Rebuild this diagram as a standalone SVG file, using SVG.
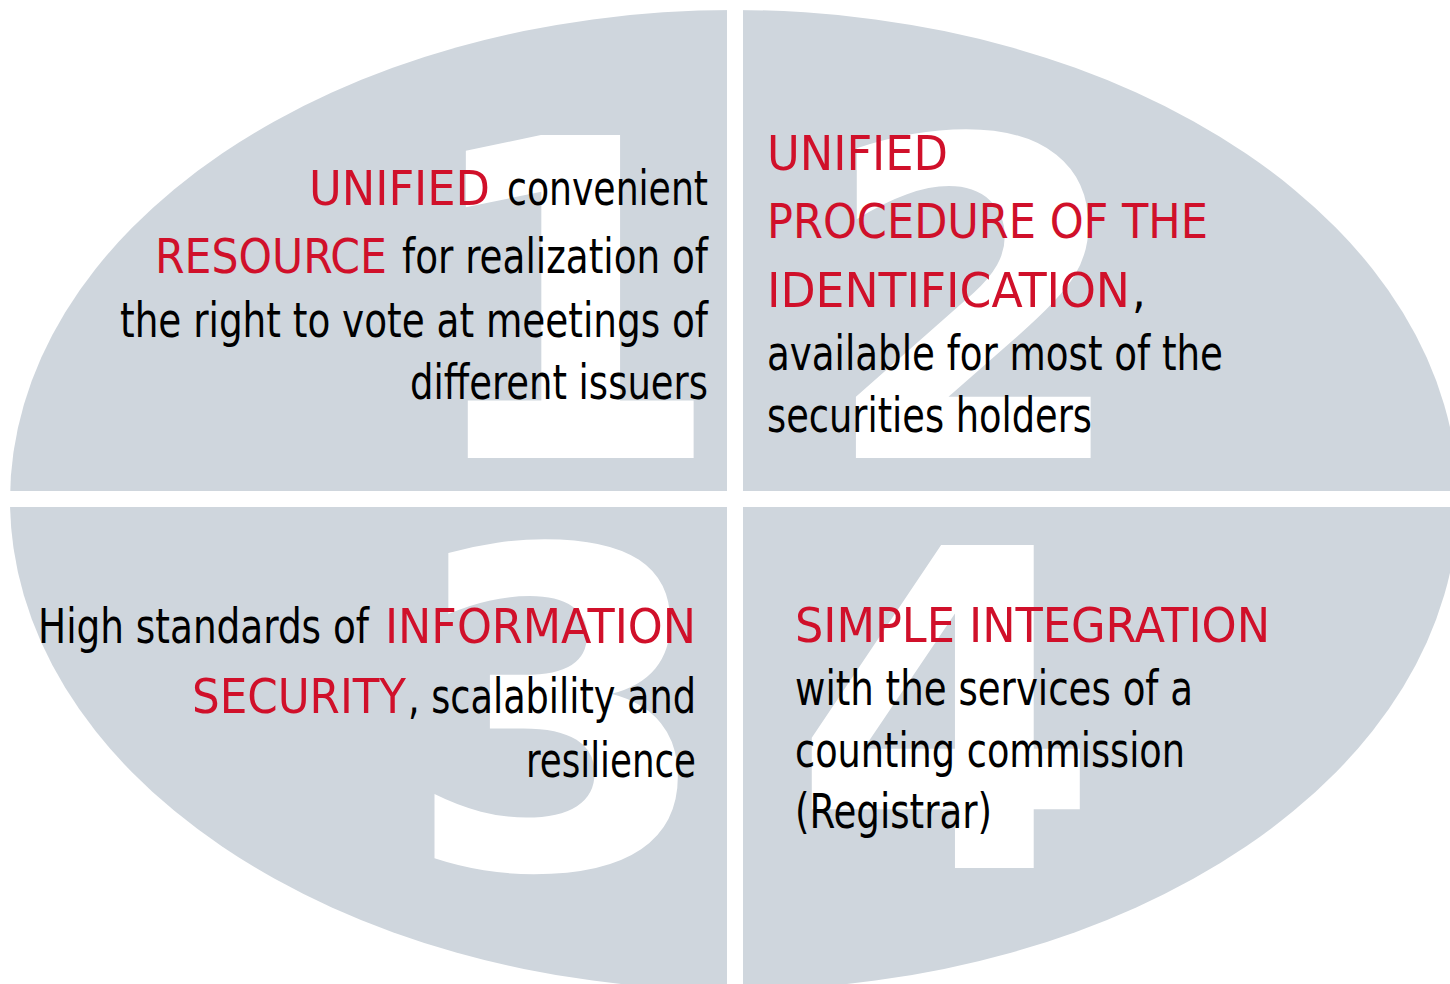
<svg xmlns="http://www.w3.org/2000/svg" width="1450" height="984" viewBox="0 0 1450 984">
<style>
.num{font-family:"DejaVu Sans","Verdana",sans-serif;font-weight:bold;font-size:443px;fill:#ffffff;text-anchor:middle}
.t{font-family:"DejaVu Sans","Verdana",sans-serif;font-stretch:condensed;font-size:48px;fill:#000000}
.r{fill:#D0102A}
</style>
<rect width="1450" height="984" fill="#ffffff"/>
<ellipse cx="734" cy="500" rx="724" ry="490" fill="#CFD6DD"/>
<rect x="727" y="0" width="16" height="984" fill="#ffffff"/>
<rect x="0" y="491" width="1450" height="16" fill="#ffffff"/>
<g id="q1">
<text class="num" x="570" y="458">1</text>
<text class="t r" x="309" y="205" textLength="181" lengthAdjust="spacingAndGlyphs">UNIFIED</text>
<text class="t" x="507" y="205" textLength="201" lengthAdjust="spacingAndGlyphs">convenient</text>
<text class="t r" x="155" y="273" textLength="232" lengthAdjust="spacingAndGlyphs">RESOURCE</text>
<text class="t" x="402" y="273" textLength="306" lengthAdjust="spacingAndGlyphs">for realization of</text>
<text class="t" x="120" y="337" textLength="588" lengthAdjust="spacingAndGlyphs">the right to vote at meetings of</text>
<text class="t" x="410" y="399" textLength="298" lengthAdjust="spacingAndGlyphs">different issuers</text>
</g>
<g id="q2">
<text class="num" x="975" y="458">2</text>
<text class="t r" x="767" y="170" textLength="181" lengthAdjust="spacingAndGlyphs">UNIFIED</text>
<text class="t r" x="767" y="238" textLength="441" lengthAdjust="spacingAndGlyphs">PROCEDURE OF THE</text>
<text class="t r" x="767" y="307" textLength="363" lengthAdjust="spacingAndGlyphs">IDENTIFICATION</text>
<text class="t" x="1132" y="307">,</text>
<text class="t" x="767" y="370" textLength="456" lengthAdjust="spacingAndGlyphs">available for most of the</text>
<text class="t" x="767" y="432" textLength="325" lengthAdjust="spacingAndGlyphs">securities holders</text>
</g>
<g id="q3">
<text class="num" x="559" y="868">3</text>
<text class="t" x="38" y="643" textLength="331" lengthAdjust="spacingAndGlyphs">High standards of</text>
<text class="t r" x="385" y="643" textLength="311" lengthAdjust="spacingAndGlyphs">INFORMATION</text>
<text class="t r" x="192" y="713" textLength="214" lengthAdjust="spacingAndGlyphs">SECURITY</text>
<text class="t" x="408" y="713" textLength="288" lengthAdjust="spacingAndGlyphs">, scalability and</text>
<text class="t" x="526" y="777" textLength="170" lengthAdjust="spacingAndGlyphs">resilience</text>
</g>
<g id="q4">
<text class="num" x="946" y="868">4</text>
<text class="t r" x="795" y="642" textLength="475" lengthAdjust="spacingAndGlyphs">SIMPLE INTEGRATION</text>
<text class="t" x="795" y="705" textLength="398" lengthAdjust="spacingAndGlyphs">with the services of a</text>
<text class="t" x="795" y="767" textLength="390" lengthAdjust="spacingAndGlyphs">counting commission</text>
<text class="t" x="795" y="828" textLength="197" lengthAdjust="spacingAndGlyphs">(Registrar)</text>
</g>
</svg>
